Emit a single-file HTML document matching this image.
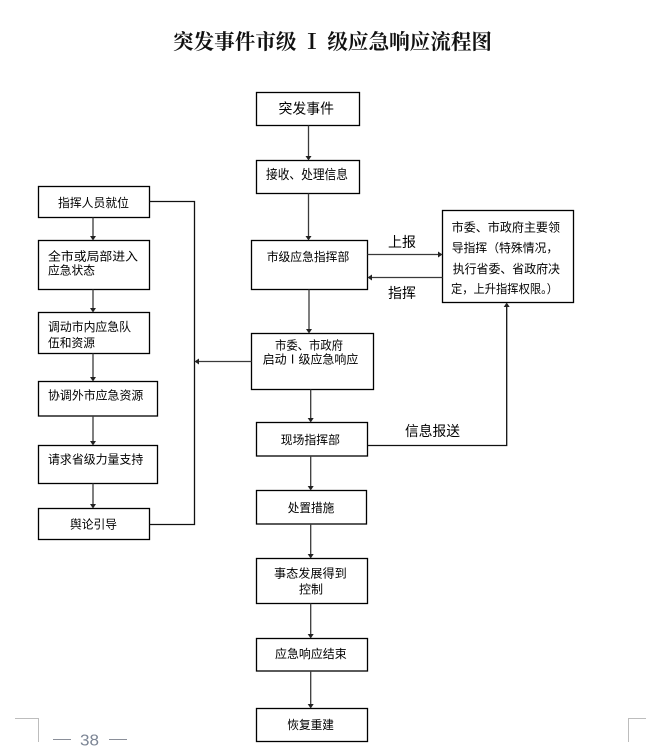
<!DOCTYPE html>
<html><head><meta charset="utf-8"><style>
html,body{margin:0;padding:0;background:#fff;width:646px;height:753px;overflow:hidden}
svg{display:block}
.t{font-family:"Liberation Sans","Noto Sans CJK SC","WenQuanYi Zen Hei",sans-serif;font-size:12px;fill:#000}
.b{fill:#fff;stroke:#000;stroke-width:1.3}
.l{stroke:#3a3a3a;stroke-width:1.3;fill:none}
.h{fill:#222}
</style></head><body>
<svg width="646" height="753" viewBox="0 0 646 753" xmlns="http://www.w3.org/2000/svg">
<!-- title -->
<text x="173" y="49" textLength="319" lengthAdjust="spacingAndGlyphs" style="font-family:'Liberation Serif','Noto Serif CJK SC',serif;font-weight:bold;font-size:21px;fill:#111">突发事件市级 Ⅰ 级应急响应流程图</text>

<!-- center boxes -->
<rect class="b" x="256.5" y="92.5" width="103" height="33"/>
<text class="t" x="278.5" y="113.5" textLength="55.5" lengthAdjust="spacingAndGlyphs" style="font-size:14px">突发事件</text>

<rect class="b" x="256.5" y="160.5" width="103" height="33"/>
<text class="t" x="266" y="179" textLength="82" lengthAdjust="spacingAndGlyphs" style="font-size:13px">接收、处理信息</text>

<rect class="b" x="251.5" y="240.5" width="116" height="49"/>
<text class="t" x="266.7" y="261" textLength="82.6" lengthAdjust="spacingAndGlyphs">市级应急指挥部</text>

<rect class="b" x="251.5" y="333.5" width="122" height="56"/>
<text class="t" x="275" y="349.5" textLength="68" lengthAdjust="spacingAndGlyphs">市委、市政府</text>
<text class="t" x="262.7" y="363.5" textLength="95.6" lengthAdjust="spacingAndGlyphs">启动Ⅰ级应急响应</text>

<rect class="b" x="256.5" y="422.5" width="111" height="33.5"/>
<text class="t" x="280.7" y="444" textLength="59.3" lengthAdjust="spacingAndGlyphs">现场指挥部</text>

<rect class="b" x="256.5" y="490.5" width="110" height="33.5"/>
<text class="t" x="287.7" y="512" textLength="46.6" lengthAdjust="spacingAndGlyphs">处置措施</text>

<rect class="b" x="256.5" y="558.5" width="111" height="45"/>
<text class="t" x="274" y="577.5" textLength="72.7" lengthAdjust="spacingAndGlyphs">事态发展得到</text>
<text class="t" x="299" y="593.5" textLength="24" lengthAdjust="spacingAndGlyphs">控制</text>

<rect class="b" x="256.5" y="638.5" width="111" height="32.5"/>
<text class="t" x="275" y="658" textLength="71.7" lengthAdjust="spacingAndGlyphs">应急响应结束</text>

<rect class="b" x="256.5" y="708.5" width="111" height="33"/>
<text class="t" x="287.3" y="729" textLength="46.7" lengthAdjust="spacingAndGlyphs">恢复重建</text>

<!-- right box -->
<rect class="b" x="442.5" y="210.5" width="131" height="92"/>
<text class="t" x="451.7" y="231.5" textLength="108.3" lengthAdjust="spacingAndGlyphs">市委、市政府主要领</text>
<text class="t" x="451.7" y="252" textLength="106.6" lengthAdjust="spacingAndGlyphs">导指挥（特殊情况，</text>
<text class="t" x="452.7" y="273" textLength="107.3" lengthAdjust="spacingAndGlyphs">执行省委、省政府决</text>
<text class="t" x="451" y="293" textLength="107" lengthAdjust="spacingAndGlyphs">定，上升指挥权限。）</text>

<!-- left boxes -->
<rect class="b" x="38.5" y="186.5" width="111" height="31"/>
<text class="t" x="58" y="207" textLength="71" lengthAdjust="spacingAndGlyphs">指挥人员就位</text>

<rect class="b" x="38.5" y="240.5" width="111" height="49"/>
<text class="t" x="48" y="260.5" textLength="90" lengthAdjust="spacingAndGlyphs">全市或局部进入</text>
<text class="t" x="48" y="274.5" textLength="47" lengthAdjust="spacingAndGlyphs">应急状态</text>

<rect class="b" x="38.5" y="312.5" width="111" height="41"/>
<text class="t" x="48" y="331" textLength="83" lengthAdjust="spacingAndGlyphs">调动市内应急队</text>
<text class="t" x="48" y="347" textLength="47" lengthAdjust="spacingAndGlyphs">伍和资源</text>

<rect class="b" x="38.5" y="381.5" width="119" height="34.5"/>
<text class="t" x="48" y="399.5" textLength="95.3" lengthAdjust="spacingAndGlyphs">协调外市应急资源</text>

<rect class="b" x="38.5" y="445.5" width="119" height="38"/>
<text class="t" x="48" y="463.5" textLength="95.3" lengthAdjust="spacingAndGlyphs">请求省级力量支持</text>

<rect class="b" x="38.5" y="508.5" width="111" height="31"/>
<text class="t" x="70" y="528.5" textLength="47" lengthAdjust="spacingAndGlyphs">舆论引导</text>

<!-- center vertical arrows -->
<g>
<line class="l" x1="308.5" y1="125.5" x2="308.5" y2="157"/><polygon class="h" points="305.5,156 311.5,156 308.5,160.5"/>
<line class="l" x1="308.5" y1="193.5" x2="308.5" y2="237"/><polygon class="h" points="305.5,236 311.5,236 308.5,240.5"/>
<line class="l" x1="309" y1="289.5" x2="309" y2="330"/><polygon class="h" points="306,329 312,329 309,333.5"/>
<line class="l" x1="310.7" y1="389.5" x2="310.7" y2="419"/><polygon class="h" points="307.7,418 313.7,418 310.7,422.5"/>
<line class="l" x1="310.7" y1="456" x2="310.7" y2="487"/><polygon class="h" points="307.7,486 313.7,486 310.7,490.5"/>
<line class="l" x1="310.7" y1="524" x2="310.7" y2="555"/><polygon class="h" points="307.7,554 313.7,554 310.7,558.5"/>
<line class="l" x1="310.7" y1="603.5" x2="310.7" y2="635"/><polygon class="h" points="307.7,634 313.7,634 310.7,638.5"/>
<line class="l" x1="310.7" y1="671" x2="310.7" y2="705"/><polygon class="h" points="307.7,704 313.7,704 310.7,708.5"/>
</g>

<!-- left vertical arrows -->
<g>
<line class="l" x1="93" y1="217.5" x2="93" y2="237"/><polygon class="h" points="90,236 96,236 93,240.5"/>
<line class="l" x1="93" y1="289.5" x2="93" y2="309"/><polygon class="h" points="90,308 96,308 93,312.5"/>
<line class="l" x1="93" y1="353.5" x2="93" y2="378"/><polygon class="h" points="90,377 96,377 93,381.5"/>
<line class="l" x1="93" y1="416" x2="93" y2="442"/><polygon class="h" points="90,441 96,441 93,445.5"/>
<line class="l" x1="93" y1="483.5" x2="93" y2="505"/><polygon class="h" points="90,504 96,504 93,508.5"/>
</g>

<!-- left bracket -->
<polyline class="l" points="149.5,201.5 194.5,201.5 194.5,524.5 149.5,524.5" style="stroke:#111"/>
<line class="l" x1="251.5" y1="361.5" x2="198" y2="361.5"/><polygon class="h" points="199,358.5 199,364.5 194.5,361.5"/>

<!-- right connections -->
<line class="l" x1="367.5" y1="254.5" x2="439" y2="254.5"/><polygon class="h" points="438,251.5 438,257.5 442.5,254.5"/>
<line class="l" x1="442.5" y1="277.5" x2="371" y2="277.5"/><polygon class="h" points="372,274.5 372,280.5 367.5,277.5"/>
<text class="t" x="388" y="247" textLength="28" lengthAdjust="spacingAndGlyphs" style="font-size:14px">上报</text>
<text class="t" x="388" y="298" textLength="28" lengthAdjust="spacingAndGlyphs" style="font-size:14px">指挥</text>

<polyline class="l" points="367.5,445.5 506.7,445.5 506.7,306" style="stroke:#111"/>
<polygon class="h" points="503.7,307 509.7,307 506.7,302.5"/>
<text class="t" x="405" y="436" textLength="55" lengthAdjust="spacingAndGlyphs" style="font-size:14px">信息报送</text>

<!-- footer -->
<polyline points="15,718.5 38.5,718.5 38.5,742" fill="none" stroke="#bdbdbd" stroke-width="1"/>
<polyline points="646,718.5 628.5,718.5 628.5,742" fill="none" stroke="#bdbdbd" stroke-width="1"/>
<line x1="53" y1="739.5" x2="71" y2="739.5" stroke="#8a8f99" stroke-width="1"/>
<line x1="109" y1="739.5" x2="127" y2="739.5" stroke="#8a8f99" stroke-width="1"/>
<text x="80" y="745.5" textLength="19" lengthAdjust="spacingAndGlyphs" style="font-family:'Liberation Sans',sans-serif;font-size:16px;fill:#7b8494">38</text>
</svg>
</body></html>
